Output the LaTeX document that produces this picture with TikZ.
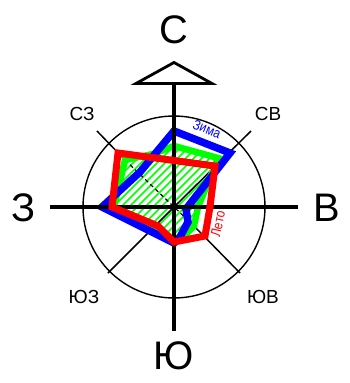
\documentclass[tikz,border=0pt]{standalone}
\usepackage{fontspec}
\setmainfont{Liberation Sans}
\definecolor{wblue}{RGB}{0,0,255}
\definecolor{wgreen}{RGB}{0,255,0}
\definecolor{wred}{RGB}{255,0,0}
\tikzset{
  axisline/.style={line width=3.6bp,black},
  diagline/.style={line width=1.5bp,black},
  dashline/.style={line width=1.2bp,black,dash pattern=on 4bp off 3bp},
  bigletter/.style={font=\fontsize{40}{40}\selectfont,inner sep=0pt},
  smallletter/.style={font=\fontsize{19}{19}\selectfont,inner sep=0pt},
  series/.style={line join=miter,miter limit=6},
}
\begin{document}
\begin{tikzpicture}[x=1bp,y=-1bp]
\useasboundingbox (0,0) rectangle (350,383);
\coordinate (O) at (174,207);
\coordinate (blN) at (174,131); \coordinate (blNE) at (230,153); \coordinate (blE) at (186,209);
\coordinate (blE2) at (188,222); \coordinate (blS2) at (180,237); \coordinate (blS) at (174,243);
\coordinate (blW) at (102,207); \coordinate (blNW) at (140,172);
\coordinate (grN) at (174,146); \coordinate (grNE) at (218,158); \coordinate (grE) at (198,207);
\coordinate (grSE) at (194,226); \coordinate (grS) at (182,238); \coordinate (grS0) at (174,240);
\coordinate (grSW) at (156,226); \coordinate (grW) at (114,207); \coordinate (grNW) at (125,160); \coordinate (grNN) at (153,154);
\coordinate (reNW) at (118,153); \coordinate (reNE) at (215,166); \coordinate (reE) at (210,207);
\coordinate (reSE) at (205,236); \coordinate (reS) at (174,242); \coordinate (reSW) at (158,226); \coordinate (reW) at (112,207);
% circle and diagonals
\node[circle,draw,line width=1.4bp,minimum size=182bp,inner sep=0pt] (ring) at (O) {};
\coordinate (dNE) at (251,131); \coordinate (dNW) at (97,131);
\coordinate (dSW) at (108,273); \coordinate (dSE) at (240,273);
% hatch
\begin{scope}
\clip (grN) -- (grNE) -- (grE) -- (grSE) -- (grS) -- (grS0) -- (grSW) -- (grW) -- (grNW) -- (grNN) -- cycle;
\foreach \k in {-14,...,16}
  \draw[wgreen,line width=1.6bp] (100+\k*8,260) -- (220+\k*8,140);
\end{scope}
\draw[diagline] (dNE) -- (O);
\draw[diagline] (dNW) -- (grNW);
\draw[diagline] (dSW) -- (O);
\draw[diagline] (dSE) -- (grSE);
\draw[dashline] (grNW) -- (O) -- (grSE);
% series
\draw[series,line width=6.5bp,wgreen] (grN) -- (grNE) -- (grE) -- (grSE) -- (grS) -- (grS0) -- (grSW) -- (grW) -- (grNW) -- (grNN) -- cycle;
\draw[series,line width=7.5bp,wblue] (blN) -- (blNE) -- (blE) -- (blE2) -- (blS2) -- (blS) -- (blW) -- (blNW) -- cycle;
% axes
\coordinate (axN) at (174,84); \coordinate (axS) at (174,331); \coordinate (axW) at (50,207); \coordinate (axE) at (298,207);
\draw[axisline] (axN) -- (axS);
\draw[axisline] (axW) -- (axE);
\draw[series,line width=7bp,wred] (reNW) -- (reNE) -- (reE) -- (reSE) -- (reS) -- (reSW) -- (reW) -- cycle;
\coordinate (triL) at (136,83.5); \coordinate (triR) at (212,83.5); \coordinate (triT) at (174,62.5);
\draw[line width=2.8bp,line join=miter] (triL) -- (triT) -- (triR) -- cycle;
% labels
\node[bigletter] (lN) at (174,30) {С};
\node[bigletter] (lS) at (174,356) {Ю};
\node[bigletter] (lW) at (24,208) {З};
\node[bigletter] (lE) at (327,208) {В};
\node[smallletter] (lNW) at (82,114) {СЗ};
\node[smallletter] (lNE) at (268,114) {СВ};
\node[smallletter] (lSW) at (84,297) {ЮЗ};
\node[smallletter] (lSE) at (263,297) {ЮВ};
\node[font=\fontsize{14}{14}\selectfont,text=wblue,rotate=-22,inner sep=0pt,xscale=.85] (lW1) at (207,129) {Зима};
\node[font=\fontsize{14}{14}\selectfont,text=wred,rotate=78,inner sep=0pt,xscale=.85] (lS1) at (218,224) {Лето};
\end{tikzpicture}
\end{document}
